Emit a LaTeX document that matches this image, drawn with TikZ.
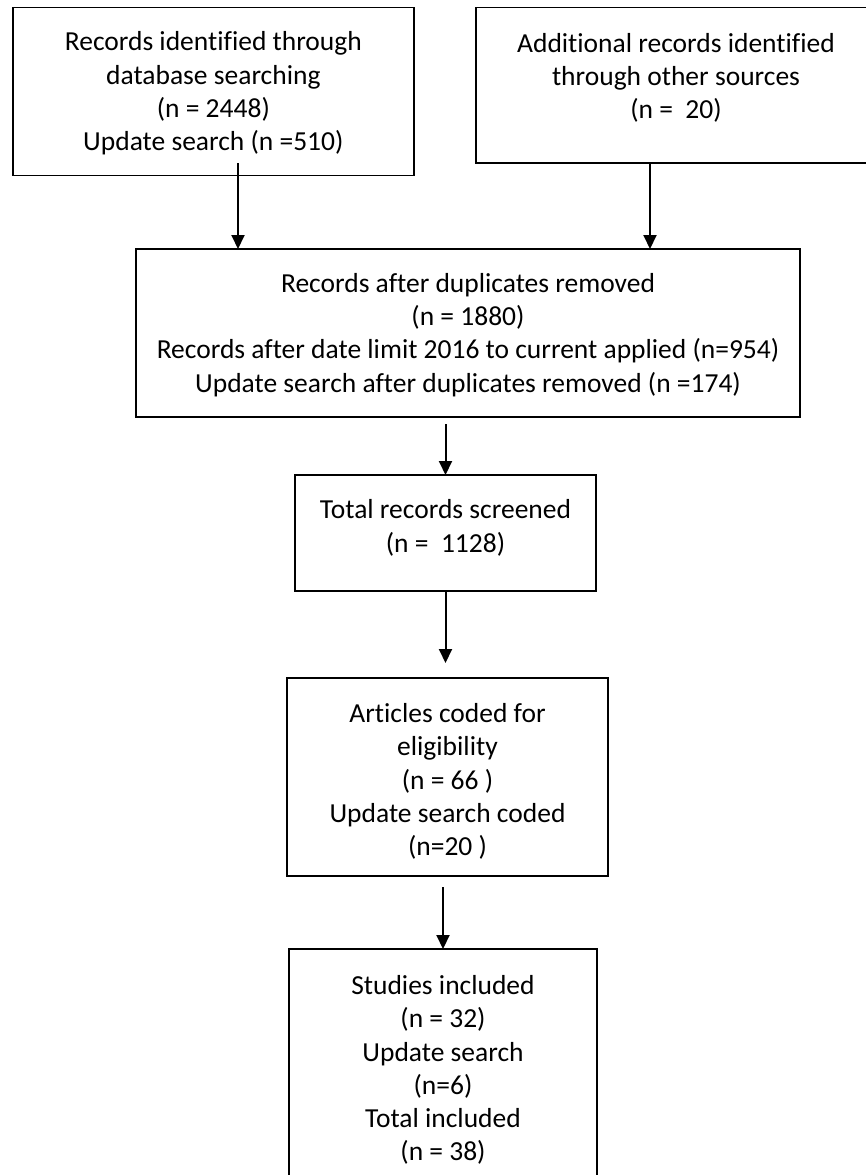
\documentclass[tikz,border=0pt]{standalone}
\usepackage{fontspec}
\setmainfont{Carlito}[Ligatures=NoCommon]
\usetikzlibrary{arrows.meta}
\tikzset{
  box/.style={draw=black, line width=1.7pt, inner sep=0pt, outer sep=0pt},
  txt/.style={align=center, inner sep=0pt, font=\fontsize{27.5}{33.3}\selectfont},
  arr/.style={line width=2pt, -{Triangle[width=13pt,length=14pt]}}
}
\begin{document}
\begin{tikzpicture}[x=1pt,y=1pt]
\useasboundingbox (0,0) rectangle (866,-1175);
% boxes
\node[box, minimum width=401.3pt, minimum height=168pt] (A) at (213.35,-91.5) {};
\node[box, minimum width=400pt, minimum height=155.5pt] (B) at (676,-85.25) {};
\node[box, minimum width=664pt, minimum height=168pt] (C) at (468,-333) {};
\node[box, minimum width=301pt, minimum height=116pt] (D) at (445.5,-533) {};
\node[box, minimum width=321pt, minimum height=198pt] (E) at (447.5,-777) {};
\node[box, minimum width=308pt, minimum height=241pt] (F) at (443,-1069.5) {};
% texts
\node[txt] (tA) at (213.35,-93.5) {Records identified through\\database searching\\(n = 2448)\\Update search (n =510)};
\node[txt] (tB) at (676,-78) {Additional records identified\\through other sources\\(n =\ \ 20)};
\node[txt] (tC) at (468,-335) {Records after duplicates removed\\(n = 1880)\\Records after date limit 2016 to current applied (n=954)\\Update search after duplicates removed (n =174)};
\node[txt] (tD) at (445.5,-528) {Total records screened\\(n =\ \ 1128)};
\node[txt] (tE) at (447.5,-781.5) {Articles coded for\\eligibility\\(n = 66 )\\Update search coded\\(n=20 )};
\node[txt] (tF) at (443,-1070) {Studies included\\(n = 32)\\Update search\\(n=6)\\Total included\\(n = 38)};
% connectors
\coordinate (a1) at (238,-163);
\coordinate (b1) at (650,-163);
\draw[arr] (a1) -- (a1 |- C.north);
\draw[arr] (b1) -- (b1 |- C.north);
\draw[arr] ([yshift=-7pt]C.south -| D.north) -- (D.north);
\draw[arr] (D.south) -- ++(0,-72);
\draw[arr] ([yshift=-11pt]E.south -| F.north) -- (F.north);
\end{tikzpicture}
\end{document}
